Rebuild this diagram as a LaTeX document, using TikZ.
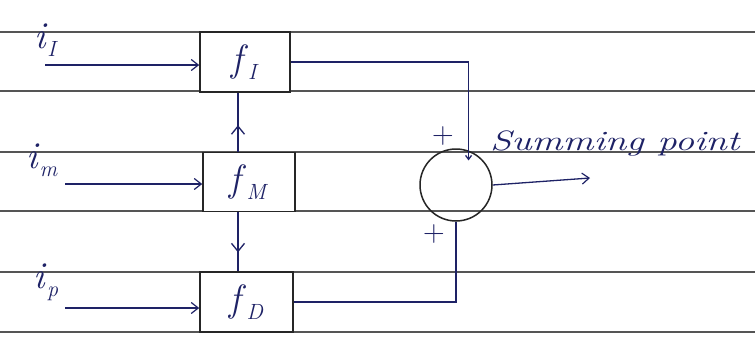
\documentclass[tikz,border=0pt]{standalone}
\usetikzlibrary{arrows.meta,decorations.markings,calc}
\definecolor{ink}{HTML}{1E2266}
\definecolor{rulecol}{HTML}{555555}
\newcommand{\mylbl}[2]{\textit{#1}\raisebox{-0.22em}{\fontsize{22}{24}\selectfont\textit{#2}}}
\begin{document}
\begin{tikzpicture}[x=1pt,y=-1pt,
  blockbox/.style={draw=black!85,line width=1.6pt,fill=white,inner sep=0pt},
  conn/.style={draw=ink,line width=1.3pt},
  tip/.style={-{Straight Barb[length=7pt,width=11pt,line width=1.2pt]}},
  midarrow/.style={postaction={decorate},decoration={markings,
     mark=at position #1 with {\arrow[ink,line width=1.3pt]{Straight Barb[length=8pt,width=13pt]}}}},
  lbl/.style={text=ink,font=\fontsize{38}{40}\selectfont,inner sep=0pt},
  sgn/.style={text=ink,font=\fontsize{30}{32}\selectfont,inner sep=0pt}]
\useasboundingbox (0,0) rectangle (755,349);
\fill[white] (0,0) rectangle (755,349);
\foreach \y in {32,91,152,211,272,332} \draw[rulecol,line width=1.2pt] (0,\y) -- (755,\y);

% blocks
\node[blockbox,minimum width=90pt,minimum height=60pt] (fI) at (245,62) {};
\node[blockbox,minimum width=92pt,minimum height=59pt] (fM) at (249,182) {};
\node[blockbox,minimum width=93pt,minimum height=60pt] (fD) at (246.5,302) {};
\node[lbl] (fIt) at (fI) {\mylbl{f}{I}};
\node[lbl] (fMt) at (fM) {\mylbl{f}{M}};
\node[lbl] (fDt) at (fD) {\mylbl{f}{D}};

% inputs
\node[lbl] (iI) at (46,40) {\mylbl{i}{I}};
\node[lbl] (im) at (42,160) {\mylbl{i}{m}};
\node[lbl] (ip) at (46,282) {\mylbl{i}{p}};
\coordinate (iIs) at (45,65);
\coordinate (ims) at (65,184);
\coordinate (ips) at (65,308);
\draw[conn,tip] (iIs) -- (fI.west |- iIs);
\draw[conn,tip] (ims) -- (fM.west |- ims);
\draw[conn,tip] (ips) -- (fD.west |- ips);

% vertical links
\coordinate (vx) at (238,0);
\draw[conn,midarrow=0.45] (fM.north -| vx) -- (fI.south -| vx);
\draw[conn,midarrow=0.68] (fM.south -| vx) -- (fD.north -| vx);

% summing point
\node[draw=black!85,line width=1.5pt,circle,minimum size=72pt,inner sep=0pt] (S) at (456,185) {};
\coordinate (ST) at (S.70);
\draw[conn,-{Straight Barb[length=4pt,width=6pt]}] (fI.east) -| ($(ST)+(0,10)$);
\draw[conn] (fD.east) -| (S.south);
\coordinate (out) at (590,178);
\draw[conn,tip] (S.east) -- (out);
\node[sgn] (p1) at (443,136) {+};
\node[sgn] (p2) at (434,234) {+};
\node[text=ink,inner sep=0pt,anchor=base west] (sp) at (490,150)
  {\scalebox{1.38}[1]{\fontsize{28}{30}\selectfont\itshape Summing point}};
\end{tikzpicture}
\end{document}
